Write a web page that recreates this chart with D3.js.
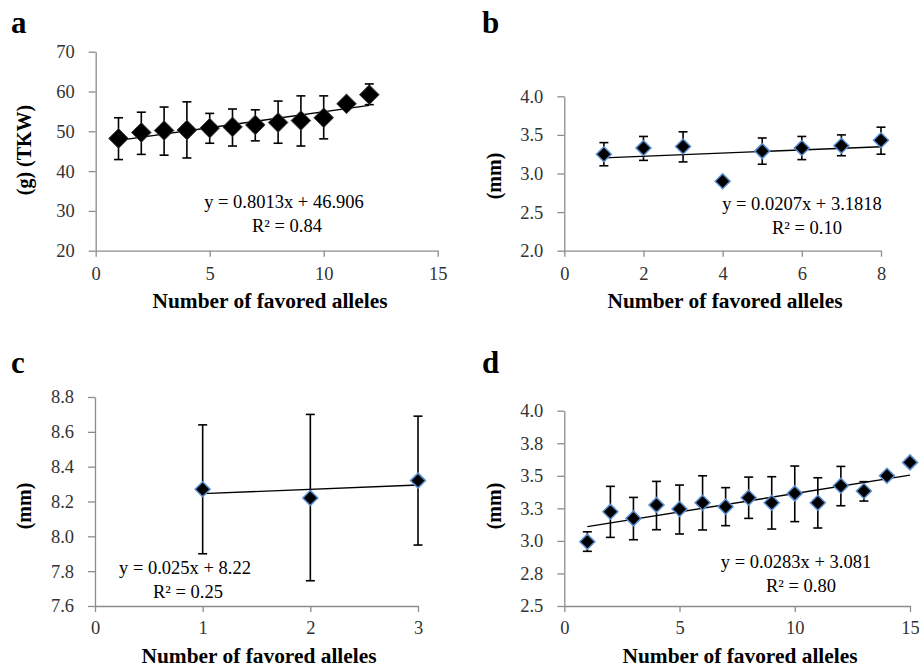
<!DOCTYPE html>
<html>
<head>
<meta charset="utf-8">
<script src="https://cdn.jsdelivr.net/npm/d3@7"></script>
<style>
  html, body { margin: 0; padding: 0; background: #fff; }
  svg { display: block; }
</style>
</head>
<body>
<svg id="chart" width="919" height="668"></svg>
<script>
// ---------------- DATA ----------------
// Panel a: TKW (g)
const aX      = [1, 2, 3, 4, 5, 6, 7, 8, 9, 10, 11, 12];
const aMean   = [48.2, 49.7, 50.2, 50.3, 50.8, 51.1, 51.6, 52.2, 52.7, 53.4, 56.9, 59.2];
const aUpper  = [53.4, 54.8, 56.1, 57.4, 54.5, 55.6, 55.4, 57.6, 58.9, 58.9, null, 61.9];
const aLower  = [42.9, 44.2, 44.0, 43.3, 47.0, 46.3, 47.6, 47.0, 46.3, 48.1, null, 56.7];
const aSlope = 0.8013, aIntercept = 46.906;
const aEquation = "y = 0.8013x + 46.906", aR2 = "R² = 0.84";
const aXTicks = [0, 5, 10, 15];
const aYTicks = [20, 30, 40, 50, 60, 70];
const aYTickLabels = ["20", "30", "40", "50", "60", "70"];
const aYTitle = "(g) (TKW)";

// Panel b
const bX      = [1, 2, 3, 4, 5, 6, 7, 8];
const bMean   = [3.25, 3.33, 3.35, 2.90, 3.29, 3.33, 3.36, 3.43];
const bUpper  = [3.40, 3.48, 3.54, null, 3.46, 3.48, 3.50, 3.60];
const bLower  = [3.10, 3.17, 3.15, null, 3.12, 3.18, 3.23, 3.25];
const bSlope = 0.0207, bIntercept = 3.1818;
const bEquation = "y = 0.0207x + 3.1818", bR2 = "R² = 0.10";
const bXTicks = [0, 2, 4, 6, 8];
const bYTicks = [2.0, 2.5, 3.0, 3.5, 4.0];
const bYTickLabels = ["2.0", "2.5", "3.0", "3.5", "4.0"];
const bYTitle = "(mm)";

// Panel c
const cX      = [1, 2, 3];
const cMean   = [8.27, 8.22, 8.32];
const cUpper  = [8.64, 8.70, 8.69];
const cLower  = [7.90, 7.745, 7.95];
const cSlope = 0.025, cIntercept = 8.22;
const cEquation = "y = 0.025x + 8.22", cR2 = "R² = 0.25";
const cXTicks = [0, 1, 2, 3];
const cYTicks = [7.6, 7.8, 8.0, 8.2, 8.4, 8.6, 8.8];
const cYTickLabels = ["7.6", "7.8", "8.0", "8.2", "8.4", "8.6", "8.8"];
const cYTitle = "(mm)";

// Panel d
const dX      = [1, 2, 3, 4, 5, 6, 7, 8, 9, 10, 11, 12, 13, 14, 15];
const dMean   = [2.994, 3.224, 3.173, 3.276, 3.245, 3.293, 3.263, 3.332, 3.293, 3.365, 3.293, 3.424, 3.383, 3.50, 3.603];
const dUpper  = [3.07, 3.419, 3.334, 3.457, 3.429, 3.50, 3.409, 3.49, 3.493, 3.575, 3.485, 3.572, 3.455, null, null];
const dLower  = [2.92, 3.027, 3.009, 3.086, 3.053, 3.084, 3.117, 3.173, 3.091, 3.148, 3.099, 3.270, 3.306, null, null];
const dSlope = 0.0283, dIntercept = 3.081;
const dEquation = "y = 0.0283x + 3.081", dR2 = "R² = 0.80";
const dXTicks = [0, 5, 10, 15];
const dYTicks = [2.5, 2.75, 3.0, 3.25, 3.5, 3.75, 4.0];
const dYTickLabels = ["2.5", "2.8", "3.0", "3.3", "3.5", "3.8", "4.0"];
const dYTitle = "(mm)";

const xTitle = "Number of favored alleles";

// ---------------- LAYOUT ----------------
const FONT = "'Liberation Serif', 'Times New Roman', serif";
const svg = d3.select("#chart");
svg.append("rect").attr("width", 919).attr("height", 668).attr("fill", "#fff");

const panels = [
  { letter: "a", x: aX, mean: aMean, up: aUpper, lo: aLower, slope: aSlope, icpt: aIntercept,
    eq: aEquation, r2: aR2, xTicks: aXTicks, yTicks: aYTicks, yLabels: aYTickLabels, yTitle: aYTitle,
    xDom: [0, 15], yDom: [20, 70], xr: [95.7, 437.7], yr: [250.7, 51.7],
    letterPos: [11, 33], yTitlePos: [24, 150], xTitlePos: [270, 308],
    eqPos: [284, 208], r2Pos: [287, 232], marker: 9.8, markerStroke: "#3a3a3a", markerSW: 1, xPad: 10 },
  { letter: "b", x: bX, mean: bMean, up: bUpper, lo: bLower, slope: bSlope, icpt: bIntercept,
    eq: bEquation, r2: bR2, xTicks: bXTicks, yTicks: bYTicks, yLabels: bYTickLabels, yTitle: bYTitle,
    xDom: [0, 8], yDom: [2.0, 4.0], xr: [564.3, 881], yr: [250.7, 96.3],
    letterPos: [482, 33], yTitlePos: [494, 176], xTitlePos: [725, 308],
    eqPos: [802, 210], r2Pos: [807, 234], marker: 7.5, markerStroke: "#5b8fd0", markerSW: 1.5, xPad: 10 },
  { letter: "c", x: cX, mean: cMean, up: cUpper, lo: cLower, slope: cSlope, icpt: cIntercept,
    eq: cEquation, r2: cR2, xTicks: cXTicks, yTicks: cYTicks, yLabels: cYTickLabels, yTitle: cYTitle,
    xDom: [0, 3], yDom: [7.6, 8.8], xr: [95, 418], yr: [606, 397],
    letterPos: [11, 373], yTitlePos: [24, 506], xTitlePos: [259, 663],
    eqPos: [185, 574], r2Pos: [188, 598], marker: 7.5, markerStroke: "#5b8fd0", markerSW: 1.5, xPad: 9 },
  { letter: "d", x: dX, mean: dMean, up: dUpper, lo: dLower, slope: dSlope, icpt: dIntercept,
    eq: dEquation, r2: dR2, xTicks: dXTicks, yTicks: dYTicks, yLabels: dYTickLabels, yTitle: dYTitle,
    xDom: [0, 15], yDom: [2.5, 4.0], xr: [564.3, 910], yr: [606, 410.7],
    letterPos: [482, 373], yTitlePos: [494, 506], xTitlePos: [740, 663],
    eqPos: [796, 568], r2Pos: [801, 592], marker: 7.5, markerStroke: "#5b8fd0", markerSW: 1.5, xPad: 9 }
];

panels.forEach(p => {
  const x = d3.scaleLinear().domain(p.xDom).range(p.xr);
  const y = d3.scaleLinear().domain(p.yDom).range(p.yr);
  const g = svg.append("g");

  // Axes
  const yAxis = d3.axisLeft(y).tickValues(p.yTicks)
    .tickFormat((d, i) => p.yLabels[i]).tickSize(7).tickSizeOuter(0).tickPadding(14);
  const xAxis = d3.axisBottom(x).tickValues(p.xTicks)
    .tickFormat(d3.format("d")).tickSize(6).tickSizeOuter(0).tickPadding(p.xPad);

  const ya = g.append("g").attr("transform", `translate(${p.xr[0]},0)`).call(yAxis);
  const xa = g.append("g").attr("transform", `translate(0,${p.yr[0]})`).call(xAxis);
  [ya, xa].forEach(a => {
    a.select(".domain").attr("stroke", "#8c8c8c").attr("stroke-width", 1.3);
    a.selectAll(".tick line").attr("stroke", "#8c8c8c").attr("stroke-width", 1.3);
    a.selectAll(".tick text").attr("fill", "#333").style("font-family", FONT).style("font-size", "18.5px");
  });

  // Trend line
  const tx = [d3.min(p.x), d3.max(p.x)];
  g.append("line")
    .attr("x1", x(tx[0])).attr("y1", y(p.slope * tx[0] + p.icpt))
    .attr("x2", x(tx[1])).attr("y2", y(p.slope * tx[1] + p.icpt))
    .attr("stroke", "#000").attr("stroke-width", 1.4);

  // Error bars
  const rows = p.x.map((v, i) => ({ x: v, m: p.mean[i], u: p.up[i], l: p.lo[i] }));
  const eb = g.append("g").selectAll("g").data(rows.filter(r => r.u != null)).join("g")
    .attr("stroke", "#000").attr("stroke-width", 1.6);
  eb.append("line").attr("x1", d => x(d.x)).attr("x2", d => x(d.x))
    .attr("y1", d => y(d.u)).attr("y2", d => y(d.l));
  eb.append("line").attr("x1", d => x(d.x) - 4.5).attr("x2", d => x(d.x) + 4.5)
    .attr("y1", d => y(d.u)).attr("y2", d => y(d.u));
  eb.append("line").attr("x1", d => x(d.x) - 4.5).attr("x2", d => x(d.x) + 4.5)
    .attr("y1", d => y(d.l)).attr("y2", d => y(d.l));

  // Diamond markers
  const r = p.marker;
  g.append("g").selectAll("path").data(rows).join("path")
    .attr("d", d => {
      const cx = x(d.x), cy = y(d.m);
      return `M${cx},${cy - r}L${cx + r},${cy}L${cx},${cy + r}L${cx - r},${cy}Z`;
    })
    .attr("fill", "#000").attr("stroke", p.markerStroke).attr("stroke-width", p.markerSW);

  // Equation text
  g.append("text").attr("x", p.eqPos[0]).attr("y", p.eqPos[1]).attr("text-anchor", "middle")
    .style("font-family", FONT).style("font-size", "18.5px").attr("fill", "#000").text(p.eq);
  g.append("text").attr("x", p.r2Pos[0]).attr("y", p.r2Pos[1]).attr("text-anchor", "middle")
    .style("font-family", FONT).style("font-size", "18.5px").attr("fill", "#000").text(p.r2);

  // Axis titles
  g.append("text").attr("transform", `translate(${p.xTitlePos[0]},${p.xTitlePos[1]}) scale(1.07,1)`)
    .attr("text-anchor", "middle").style("font-family", FONT).style("font-size", "20px")
    .style("font-weight", "bold").attr("fill", "#000").text(xTitle);
  g.append("text").attr("transform", `translate(${p.yTitlePos[0]},${p.yTitlePos[1]}) rotate(-90)`)
    .attr("text-anchor", "middle").attr("dy", "0.35em").style("font-family", FONT)
    .style("font-size", "20px").style("font-weight", "bold").attr("fill", "#000").text(p.yTitle);

  // Panel letter
  g.append("text").attr("x", p.letterPos[0]).attr("y", p.letterPos[1])
    .style("font-family", FONT).style("font-size", "31px").style("font-weight", "bold")
    .attr("fill", "#000").text(p.letter);
});
</script>
</body>
</html>
